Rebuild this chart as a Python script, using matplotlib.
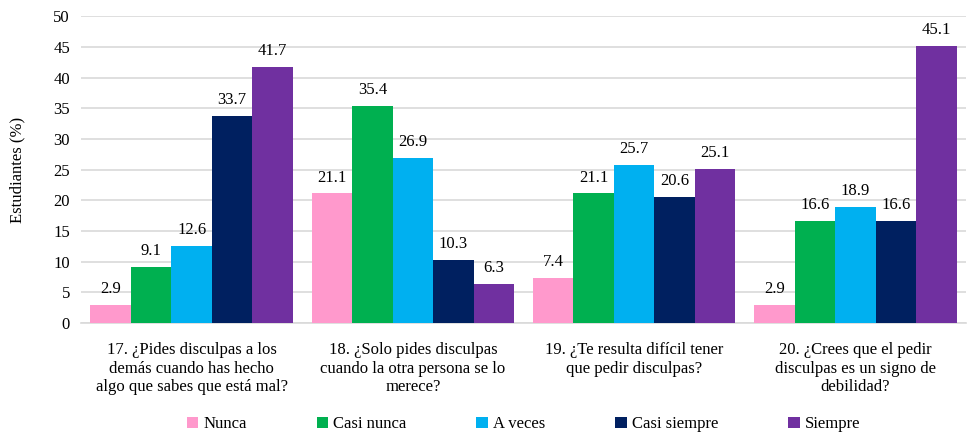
import numpy as np
import matplotlib.pyplot as plt

plt.rcParams['font.family'] = 'serif'
plt.rcParams['font.serif'] = ['Liberation Serif', 'DejaVu Serif']

categorias = [
    '17. ¿Pides disculpas a los\ndemás cuando has hecho\nalgo que sabes que está mal?',
    '18. ¿Solo pides disculpas\ncuando la otra persona se lo\nmerece?',
    '19. ¿Te resulta difícil tener\nque pedir disculpas?',
    '20. ¿Crees que el pedir\ndisculpas es un signo de\ndebilidad?',
]
series = ['Nunca', 'Casi nunca', 'A veces', 'Casi siempre', 'Siempre']
nunca = [2.9, 21.1, 7.4, 2.9]
casi_nunca = [9.1, 35.4, 21.1, 16.6]
a_veces = [12.6, 26.9, 25.7, 18.9]
casi_siempre = [33.7, 10.3, 20.6, 16.6]
siempre = [41.7, 6.3, 25.1, 45.1]
valores = [nunca, casi_nunca, a_veces, casi_siempre, siempre]
colores = ['#FF99CC', '#00B050', '#00B0F0', '#002060', '#7030A0']

fig = plt.figure(figsize=(9.69, 4.37), dpi=100)
ax = fig.add_axes([0.0836, 0.261, 0.9134, 0.702])

x = np.arange(len(categorias))
w = 0.183
for i, (nombre, vals, c) in enumerate(zip(series, valores, colores)):
    pos = x + (i - 2) * w
    bars = ax.bar(pos, vals, width=w, color=c, label=nombre, zorder=3)
    for b, v in zip(bars, vals):
        ax.text(b.get_x() + b.get_width() / 2, v + 1.3, f'{v:.1f}',
                ha='center', va='bottom', fontsize=12)

ax.set_xlim(-0.5, len(categorias) - 0.5)
ax.set_ylim(0, 50)
ax.set_yticks(range(0, 51, 5))
ax.yaxis.grid(True, color='#d9d9d9', linewidth=1.2, zorder=0)
for s in ['top', 'right', 'left']:
    ax.spines[s].set_visible(False)
ax.spines['bottom'].set_color('#d9d9d9')
ax.spines['bottom'].set_linewidth(1.2)
ax.tick_params(axis='both', length=0, labelsize=12, pad=8)
ax.set_xticks(x)
ax.set_xticklabels(categorias, fontsize=12, linespacing=1.2)
ax.tick_params(axis='x', pad=14)
ax.set_ylabel('Estudiantes (%)', fontsize=12, labelpad=20)

ax.legend(loc='center', bbox_to_anchor=(0.5, -0.33), ncol=5, frameon=False,
          fontsize=12, handlelength=0.7, handleheight=0.7, handletextpad=0.3,
          columnspacing=4.2)

plt.savefig('out.png', dpi=100)
